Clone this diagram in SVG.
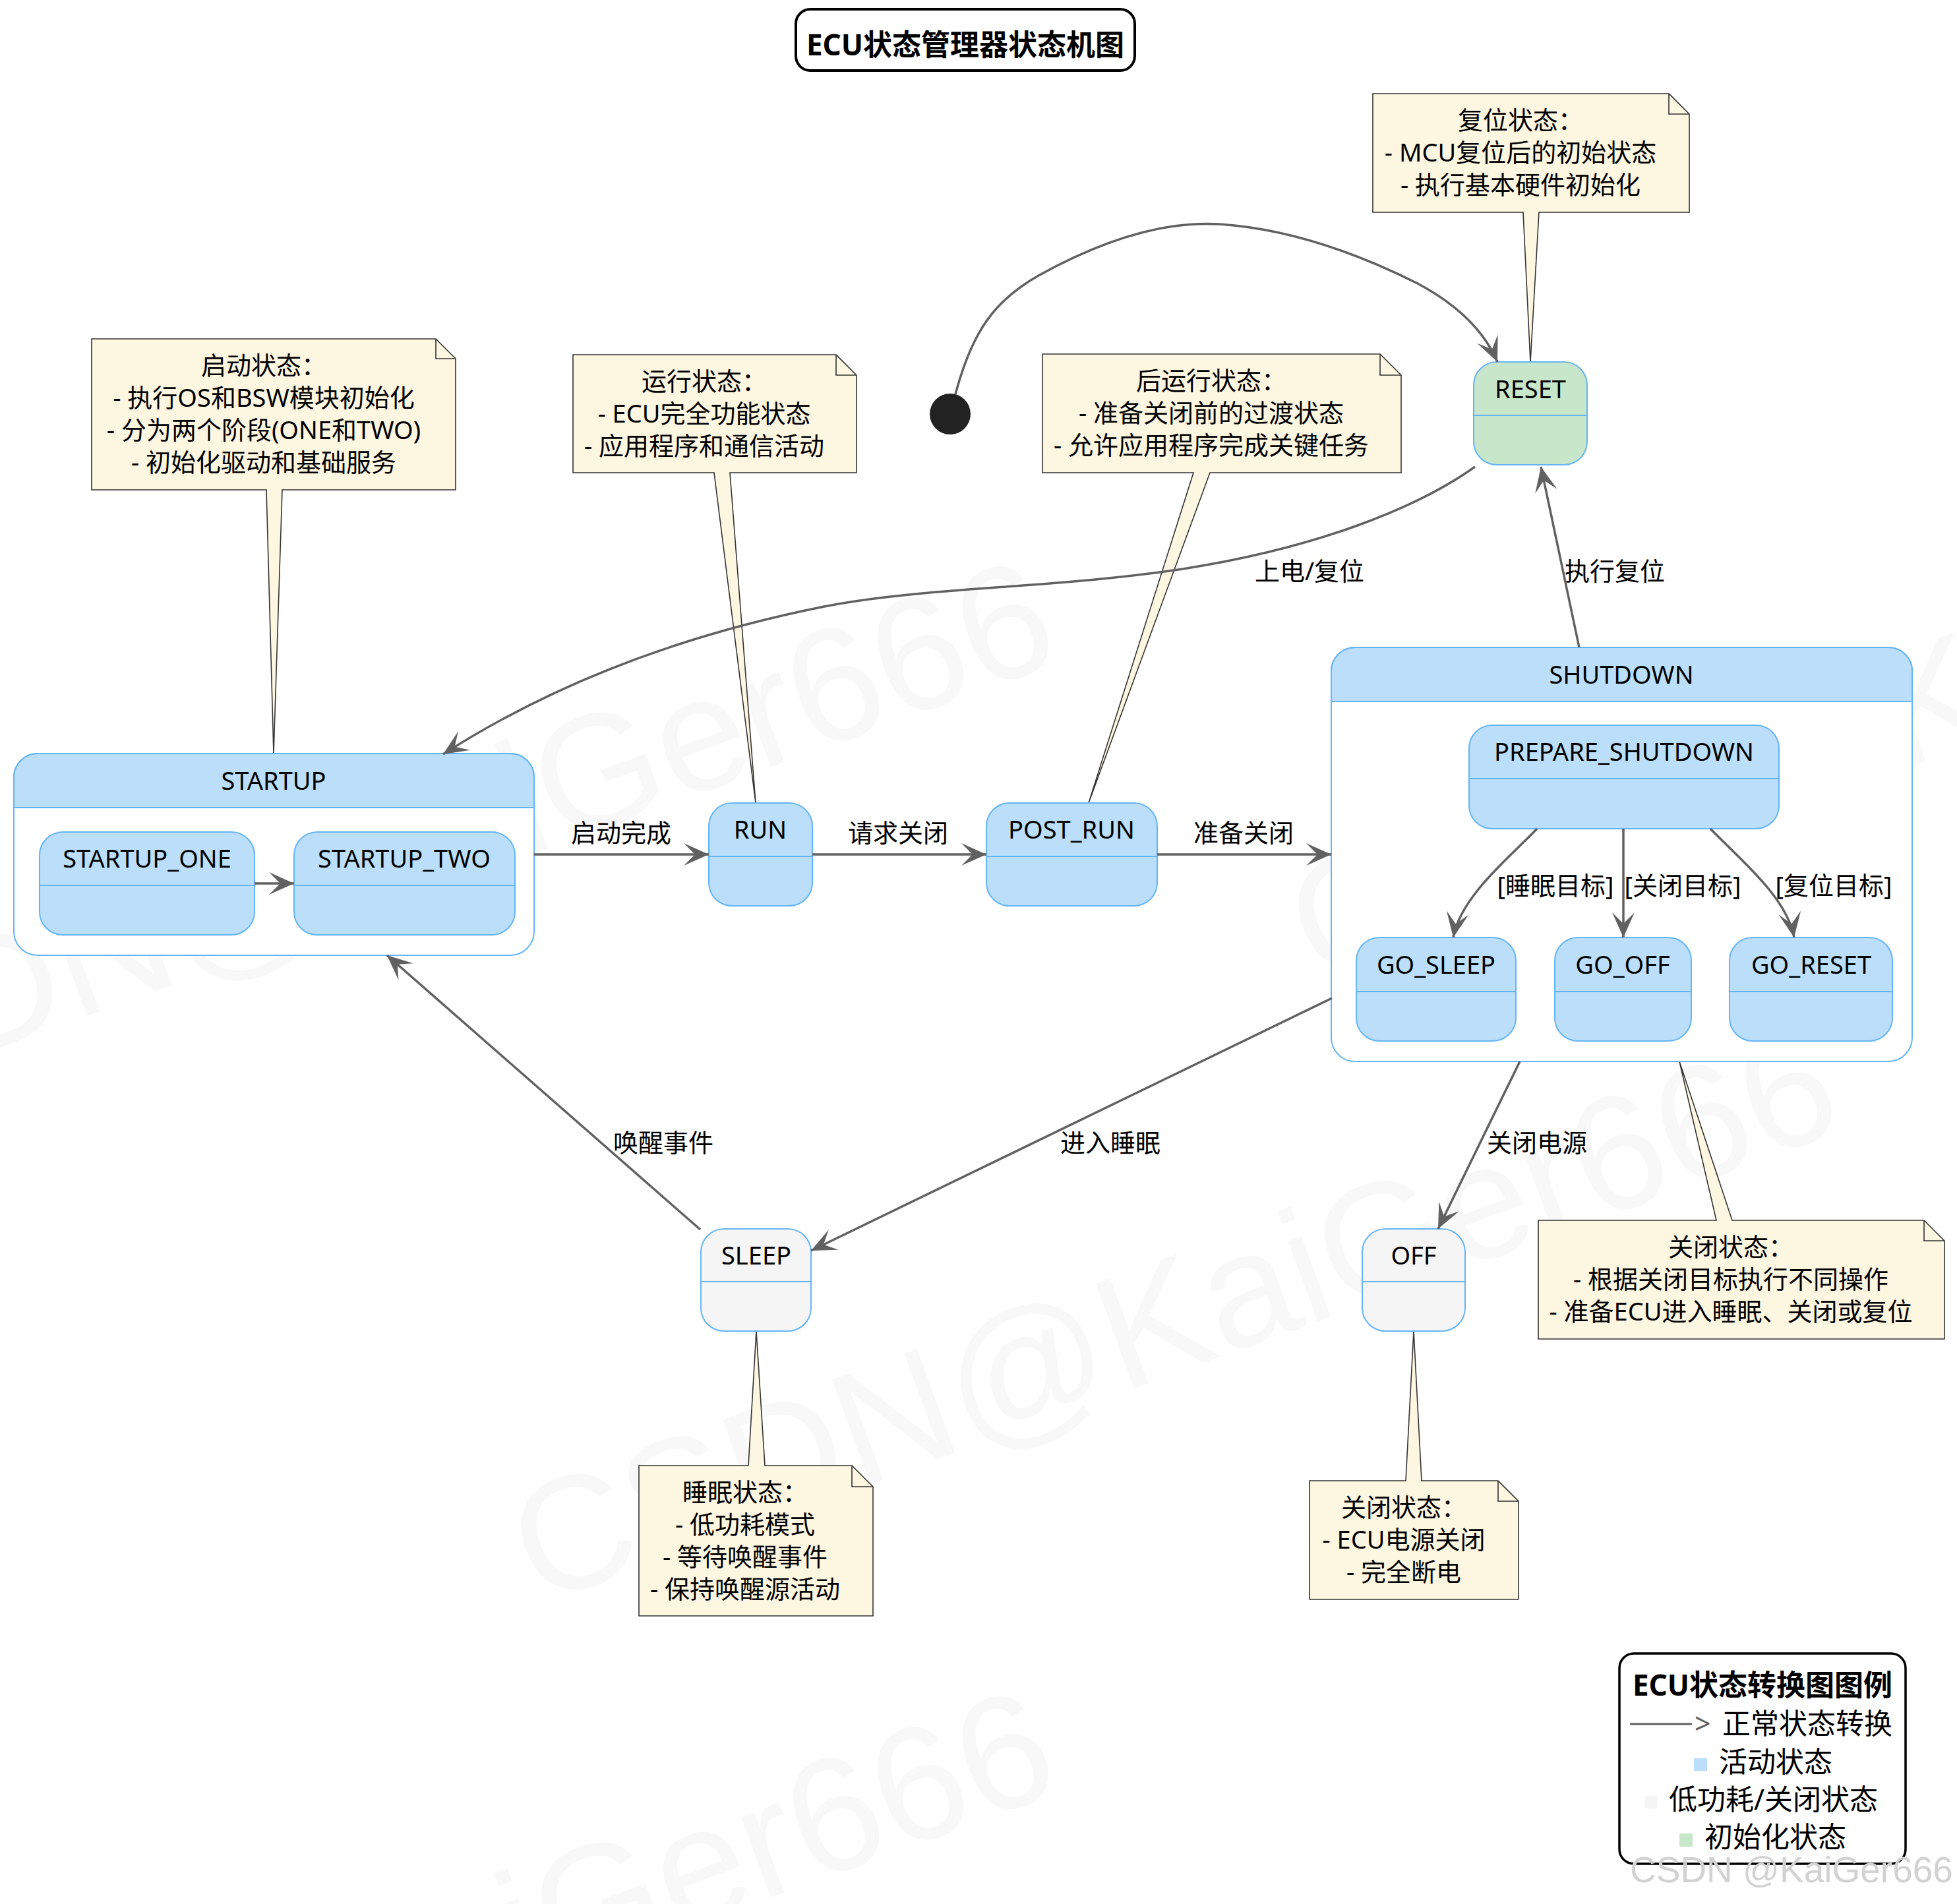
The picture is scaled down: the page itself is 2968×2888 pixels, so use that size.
<svg xmlns="http://www.w3.org/2000/svg" width="2968" height="2888" viewBox="0 0 2968 2888">
<style>
.t{font-family:"Noto Sans","Noto Sans CJK SC",sans-serif;font-size:38px;fill:#000}
.c{text-anchor:middle}
.b{font-weight:bold;font-size:44px}
.lg{font-size:43px}
.st{fill:#BBDEFB;stroke:#64B5F6;stroke-width:2}
.gr{fill:#F5F5F5;stroke:#64B5F6;stroke-width:2}
.gn{fill:#C8E6C9;stroke:#64B5F6;stroke-width:2}
.body{fill:#FFFFFF;stroke:#64B5F6;stroke-width:2}
.div{stroke:#64B5F6;stroke-width:2;fill:none}
.note{fill:#FDF6E1;stroke:#333333;stroke-width:1.6;stroke-linejoin:miter}
.fold{fill:none;stroke:#333333;stroke-width:1.6}
.ln{fill:none;stroke:#616161;stroke-width:3.5;marker-end:url(#ah)}
.wm{font-family:"Liberation Sans",Arial,sans-serif;font-size:245px;fill:#F8F8F8}
</style>
<defs>
<marker id="ah" markerUnits="userSpaceOnUse" viewBox="-40 -20 42 40" refX="0" refY="0" markerWidth="42" markerHeight="40" orient="auto" overflow="visible">
<path d="M0,0 L-38,-17 L-21,0 L-38,17 Z" fill="#616161"/>
</marker>
</defs>
<rect width="2968" height="2888" fill="#FFFFFF"/>
<g id="watermarks">
<text class="wm" transform="translate(815,2435) rotate(-20)">CSDN@KaiGer666</text>
<text class="wm" transform="translate(-373,1725) rotate(-20)">CSDN@KaiGer666</text>
<text class="wm" transform="translate(1994,1492) rotate(-20)">CSDN@KaiGer666</text>
<text class="wm" transform="translate(-373,3439) rotate(-20)">CSDN@KaiGer666</text>
</g>
<g id="title">
<rect x="1207" y="14" width="514" height="93" rx="22" fill="#FFFFFF" stroke="#000" stroke-width="4"/>
<text class="t c b" x="1464" y="84">ECU状态管理器状态机图</text>
</g>
<g id="note-startup">
<path class="note" d="M139,514 L661,514 L691,544 L691,743 L428,743 L415,1143 L404,743 L139,743 Z"/>
<path class="fold" d="M661,514 L661,544 L691,544"/>
<text class="t c" x="400" y="568">启动状态：</text>
<text class="t c" x="400" y="617">- 执行OS和BSW模块初始化</text>
<text class="t c" x="400" y="666">- 分为两个阶段(ONE和TWO)</text>
<text class="t c" x="400" y="715">- 初始化驱动和基础服务</text>
</g>
<g id="note-run">
<path class="note" d="M869,538 L1268,538 L1299,569 L1299,717 L1107,717 L1146,1218 L1083,717 L869,717 Z"/>
<path class="fold" d="M1268,538 L1268,569 L1299,569"/>
<text class="t c" x="1068" y="592">运行状态：</text>
<text class="t c" x="1068" y="641">- ECU完全功能状态</text>
<text class="t c" x="1068" y="690">- 应用程序和通信活动</text>
</g>
<g id="note-postrun">
<path class="note" d="M1581,537 L2093,537 L2125,569 L2125,717 L1835,717 L1651,1218 L1810,717 L1581,717 Z"/>
<path class="fold" d="M2093,537 L2093,569 L2125,569"/>
<text class="t c" x="1837" y="591">后运行状态：</text>
<text class="t c" x="1837" y="640">- 准备关闭前的过渡状态</text>
<text class="t c" x="1837" y="689">- 允许应用程序完成关键任务</text>
</g>
<g id="note-reset">
<path class="note" d="M2082,142 L2531,142 L2562,173 L2562,322 L2334,322 L2321,549 L2310,322 L2082,322 Z"/>
<path class="fold" d="M2531,142 L2531,173 L2562,173"/>
<text class="t c" x="2306" y="196">复位状态：</text>
<text class="t c" x="2306" y="245">- MCU复位后的初始状态</text>
<text class="t c" x="2306" y="294">- 执行基本硬件初始化</text>
</g>
<g id="note-shutdown">
<path class="note" d="M2333,1851 L2603,1851 L2547,1610 L2627,1851 L2918,1851 L2949,1882 L2949,2031 L2333,2031 Z"/>
<path class="fold" d="M2918,1851 L2918,1882 L2949,1882"/>
<text class="t c" x="2625" y="1905">关闭状态：</text>
<text class="t c" x="2625" y="1954">- 根据关闭目标执行不同操作</text>
<text class="t c" x="2625" y="2003">- 准备ECU进入睡眠、关闭或复位</text>
</g>
<g id="note-sleep">
<path class="note" d="M969,2223 L1135,2223 L1147,2019 L1160,2223 L1292,2223 L1324,2255 L1324,2451 L969,2451 Z"/>
<path class="fold" d="M1292,2223 L1292,2255 L1324,2255"/>
<text class="t c" x="1130" y="2277">睡眠状态：</text>
<text class="t c" x="1130" y="2326">- 低功耗模式</text>
<text class="t c" x="1130" y="2375">- 等待唤醒事件</text>
<text class="t c" x="1130" y="2424">- 保持唤醒源活动</text>
</g>
<g id="note-off">
<path class="note" d="M1986,2246 L2132,2246 L2144,2019 L2156,2246 L2272,2246 L2303,2277 L2303,2426 L1986,2426 Z"/>
<path class="fold" d="M2272,2246 L2272,2277 L2303,2277"/>
<text class="t c" x="2129" y="2300">关闭状态：</text>
<text class="t c" x="2129" y="2349">- ECU电源关闭</text>
<text class="t c" x="2129" y="2398">- 完全断电</text>
</g>
<g id="initial">
<circle cx="1441" cy="628" r="31" fill="#222222"/>
</g>
<g id="RESET">
<rect class="gn" x="2235" y="549" width="172" height="156" rx="35"/>
<line class="div" x1="2235" y1="630" x2="2407" y2="630"/>
<text class="t c" x="2321" y="604">RESET</text>
</g>
<g id="STARTUP">
<rect class="body" x="21" y="1143" width="789" height="306" rx="36"/>
<path class="st" d="M21,1225 L21,1179 A36,36 0 0 1 57,1143 L774,1143 A36,36 0 0 1 810,1179 L810,1225 Z"/>
<line class="div" x1="21" y1="1225" x2="810" y2="1225"/>
<text class="t c" x="415" y="1198">STARTUP</text>
</g>
<g id="STARTUP_ONE">
<rect class="st" x="60" y="1262" width="326" height="156" rx="35"/>
<line class="div" x1="60" y1="1343" x2="386" y2="1343"/>
<text class="t c" x="223" y="1316">STARTUP_ONE</text>
</g>
<g id="STARTUP_TWO">
<rect class="st" x="446" y="1262" width="335" height="156" rx="35"/>
<line class="div" x1="446" y1="1343" x2="781" y2="1343"/>
<text class="t c" x="613" y="1316">STARTUP_TWO</text>
</g>
<g id="RUN">
<rect class="st" x="1075" y="1218" width="157" height="156" rx="35"/>
<line class="div" x1="1075" y1="1299" x2="1232" y2="1299"/>
<text class="t c" x="1153" y="1272">RUN</text>
</g>
<g id="POST_RUN">
<rect class="st" x="1496" y="1218" width="259" height="156" rx="35"/>
<line class="div" x1="1496" y1="1299" x2="1755" y2="1299"/>
<text class="t c" x="1625" y="1272">POST_RUN</text>
</g>
<g id="SHUTDOWN">
<rect class="body" x="2019" y="982" width="881" height="628" rx="36"/>
<path class="st" d="M2019,1064 L2019,1018 A36,36 0 0 1 2055,982 L2864,982 A36,36 0 0 1 2900,1018 L2900,1064 Z"/>
<line class="div" x1="2019" y1="1064" x2="2900" y2="1064"/>
<text class="t c" x="2459" y="1037">SHUTDOWN</text>
</g>
<g id="PREPARE_SHUTDOWN">
<rect class="st" x="2228" y="1100" width="470" height="157" rx="35"/>
<line class="div" x1="2228" y1="1181" x2="2698" y2="1181"/>
<text class="t c" x="2463" y="1154">PREPARE_SHUTDOWN</text>
</g>
<g id="GO_SLEEP">
<rect class="st" x="2057" y="1422" width="242" height="157" rx="35"/>
<line class="div" x1="2057" y1="1504" x2="2299" y2="1504"/>
<text class="t c" x="2178" y="1477">GO_SLEEP</text>
</g>
<g id="GO_OFF">
<rect class="st" x="2358" y="1422" width="207" height="157" rx="35"/>
<line class="div" x1="2358" y1="1504" x2="2565" y2="1504"/>
<text class="t c" x="2461" y="1477">GO_OFF</text>
</g>
<g id="GO_RESET">
<rect class="st" x="2623" y="1422" width="247" height="157" rx="35"/>
<line class="div" x1="2623" y1="1504" x2="2870" y2="1504"/>
<text class="t c" x="2747" y="1477">GO_RESET</text>
</g>
<g id="SLEEP">
<rect class="gr" x="1063" y="1864" width="167" height="155" rx="35"/>
<line class="div" x1="1063" y1="1944" x2="1230" y2="1944"/>
<text class="t c" x="1147" y="1918">SLEEP</text>
</g>
<g id="OFF">
<rect class="gr" x="2066" y="1864" width="156" height="155" rx="35"/>
<line class="div" x1="2066" y1="1944" x2="2222" y2="1944"/>
<text class="t c" x="2144" y="1918">OFF</text>
</g>
<g id="connectors">
<path class="ln" d="M1449,598 C1475,500 1510,455 1575,418 C1680,360 1770,335 1850,340 C1970,348 2080,395 2150,430 C2210,462 2250,500 2271,549"/>
<path class="ln" d="M2237,708 C2150,770 2000,830 1800,862 C1600,893 1400,890 1250,920 C1050,960 850,1030 672,1144"/>
<path class="ln" d="M2395,982 L2337,708"/>
<path class="ln" d="M810,1296 L1075,1296"/>
<path class="ln" d="M1232,1296 L1496,1296"/>
<path class="ln" d="M1755,1296 L2019,1296"/>
<path class="ln" d="M386,1340 L446,1340"/>
<path class="ln" d="M2331,1257 C2290,1300 2215,1360 2204,1422"/>
<path class="ln" d="M2462,1257 L2462,1422"/>
<path class="ln" d="M2594,1257 C2635,1300 2710,1360 2721,1422"/>
<path class="ln" d="M2020,1514 L1230,1897"/>
<path class="ln" d="M2305,1610 L2181,1864"/>
<path class="ln" d="M1062,1865 L587,1449"/>
<text class="t c" x="1986" y="880">上电/复位</text>
<text class="t c" x="2449" y="880">执行复位</text>
<text class="t c" x="942" y="1277">启动完成</text>
<text class="t c" x="1362" y="1277">请求关闭</text>
<text class="t c" x="1886" y="1277">准备关闭</text>
<text class="t c" x="2359" y="1357">[睡眠目标]</text>
<text class="t c" x="2552" y="1357">[关闭目标]</text>
<text class="t c" x="2781" y="1357">[复位目标]</text>
<text class="t c" x="1006" y="1747">唤醒事件</text>
<text class="t c" x="1684" y="1747">进入睡眠</text>
<text class="t c" x="2331" y="1747">关闭电源</text>
</g>
<g id="legend">
<rect x="2456" y="2508" width="434" height="319" rx="22" fill="#FFFFFF" stroke="#000" stroke-width="3.5"/>
<text class="t c b" x="2673" y="2572">ECU状态转换图图例</text>
<line x1="2472" y1="2615" x2="2566" y2="2615" stroke="#616161" stroke-width="3"/>
<text class="t lg" x="2570" y="2630" style="fill:#616161">&gt;</text>
<text class="t lg" x="2612" y="2630">正常状态转换</text>
<rect x="2569" y="2667" width="20" height="19" fill="#BBDEFB"/>
<text class="t lg" x="2607" y="2688">活动状态</text>
<rect x="2494" y="2724" width="20" height="19" fill="#F5F5F5"/>
<text class="t lg" x="2531" y="2745">低功耗/关闭状态</text>
<rect x="2547" y="2781" width="20" height="20" fill="#C8E6C9"/>
<text class="t lg" x="2585" y="2802">初始化状态</text>
</g>
<text x="2472" y="2855" style="font-family:'Liberation Sans',Arial,sans-serif;font-size:55px;fill:#D2D2D2">CSDN @KaiGer666</text>
</svg>
